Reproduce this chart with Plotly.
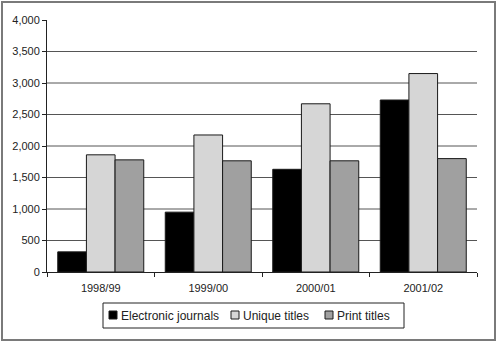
import plotly.graph_objects as go

categories = ["1998/99", "1999/00", "2000/01", "2001/02"]
series_names = ["Electronic journals", "Unique titles", "Print titles"]
electronic = [320, 950, 1630, 2730]
unique = [1860, 2175, 2670, 3150]
print_titles = [1780, 1765, 1765, 1800]
y_ticks = [0, 500, 1000, 1500, 2000, 2500, 3000, 3500, 4000]

W, H = 498, 342
L, R, T, B = 47, 21, 20, 70
pw, ph = W - L - R, H - T - B

colors = ["#000000", "#d6d6d6", "#a0a0a0"]
legend_sq_x = [109, 231, 325]   # pixel x of legend swatches


def px_x(p):
    return (p - L) / pw


def px_y(p):
    return (T + ph - p) / ph


fig = go.Figure()
for name, vals, col in zip(series_names, [electronic, unique, print_titles], colors):
    fig.add_trace(go.Bar(x=categories, y=vals, name=name,
                         marker=dict(color=col, line=dict(color="#1a1a1a", width=1))))

shapes = []
for v in y_ticks[1:-1]:
    shapes.append(dict(type="line", xref="paper", yref="y", x0=0, x1=1, y0=v, y1=v,
                       line=dict(color="#555555", width=1), layer="below"))
shapes.append(dict(type="rect", xref="paper", yref="paper",
                   x0=px_x(2), x1=px_x(W - 3), y0=px_y(H - 2), y1=px_y(2),
                   line=dict(color="#7a7a7a", width=2)))
shapes.append(dict(type="rect", xref="paper", yref="paper",
                   x0=px_x(103), x1=px_x(404), y0=px_y(328), y1=px_y(303),
                   line=dict(color="#222222", width=1)))

annotations = []
for name, col, sx in zip(series_names, colors, legend_sq_x):
    shapes.append(dict(type="rect", xref="paper", yref="paper",
                       x0=px_x(sx), x1=px_x(sx + 8), y0=px_y(319), y1=px_y(311),
                       fillcolor=col, line=dict(color="#1a1a1a", width=1)))
    annotations.append(dict(xref="paper", yref="paper", x=px_x(sx + 10), y=px_y(315.5),
                            xanchor="left", yanchor="middle", text=name, showarrow=False,
                            font=dict(size=12, color="#222222")))

fig.update_layout(
    width=W, height=H,
    margin=dict(l=L, r=R, t=T, b=B, autoexpand=False),
    paper_bgcolor="white", plot_bgcolor="white",
    barmode="group", bargap=0.2, bargroupgap=0,
    font=dict(family="Liberation Sans, Arial, sans-serif", size=11, color="#222222"),
    showlegend=False,
    shapes=shapes,
    annotations=annotations,
    xaxis=dict(showline=True, linecolor="#222222", linewidth=1, automargin=False,
               ticks="outside", ticklen=4, tickcolor="#222222", ticklabelstandoff=6,
               tickson="boundaries", showgrid=False),
    yaxis=dict(range=[0, 4000], tickvals=y_ticks, tickformat=",", automargin=False,
               showline=True, linecolor="#222222", linewidth=1,
               ticks="outside", ticklen=4, tickcolor="#222222",
               showgrid=False, zeroline=False),
)

fig.write_html("out.html", config={"displayModeBar": False},
               post_script="document.body.style.margin='0';document.body.style.overflow='hidden';")
